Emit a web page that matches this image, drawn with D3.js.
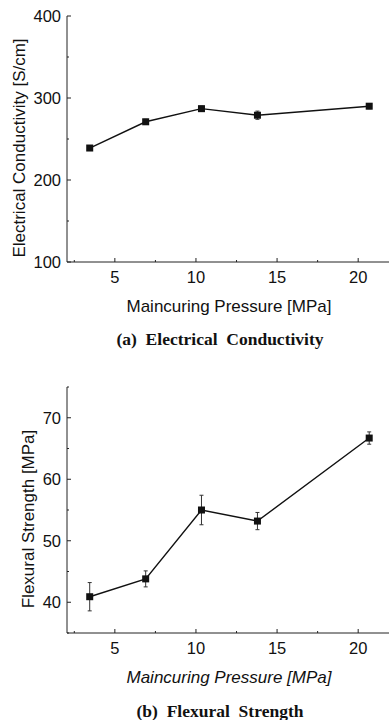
<!DOCTYPE html>
<meta charset="utf-8">
<head>
    <style>
        body { margin: 0; background: #fff; }
        svg text { font-family: Arial, 'Liberation Sans', sans-serif; fill: #111; }
        .cap { font-family: 'Liberation Serif', 'Times New Roman', serif; font-weight: bold; }
    </style>
</head>
<body>
    <svg width="389" height="720"></svg>

    <script src="https://d3js.org/d3.v7.min.js"></script>
    <script>
        // data
        var pressure = [3.45, 6.9, 10.34, 13.79, 20.68];
        var conductivity = [239, 271, 287, 279, 290];
        var conductivityErr = [3, 3, 3, 5, 3];
        var strength = [40.9, 43.8, 55.0, 53.2, 66.7];
        var strengthErr = [2.3, 1.3, 2.4, 1.4, 1.0];
        var xTicks = [5, 10, 15, 20];
        var condTicks = [100, 200, 300, 400];
        var strTicks = [40, 50, 60, 70];

        var svg = d3.select("svg");

        var x = d3.scaleLinear().domain([2.05, 21.9]).range([67, 389]);

        function panel(top, bottom, yDomain, yTicks, yMinor, vals, errs, yTitle, yTitleX, xItalic, caption, capY, capSize) {
            var y = d3.scaleLinear().domain(yDomain).range([bottom, top]);
            var g = svg.append("g");

            // axes lines
            g.append("line").attr("x1", x.range()[0]).attr("x2", x.range()[0])
                .attr("y1", top).attr("y2", bottom).attr("stroke", "#222").attr("stroke-width", 1);
            g.append("line").attr("x1", x.range()[0]).attr("x2", 389)
                .attr("y1", bottom).attr("y2", bottom).attr("stroke", "#222").attr("stroke-width", 1);

            // x ticks (inward)
            var xMinor = d3.range(2.5, 22, 2.5).filter(function (d) { return d > x.domain()[0]; });
            g.selectAll(".xt").data(xMinor).enter().append("line")
                .attr("x1", function (d) { return x(d); }).attr("x2", function (d) { return x(d); })
                .attr("y1", bottom).attr("y2", function (d) { return bottom - (d % 5 === 0 ? 4 : 2); })
                .attr("stroke", "#222");
            g.selectAll(".xl").data(xTicks).enter().append("text")
                .attr("x", function (d) { return x(d); }).attr("y", bottom + 21)
                .attr("text-anchor", "middle").style("font-size", "16.5px")
                .text(function (d) { return d; });

            // y ticks (inward)
            g.selectAll(".yt").data(yMinor).enter().append("line")
                .attr("x1", x.range()[0]).attr("x2", function (d) { return x.range()[0] + (yTicks.indexOf(d) >= 0 ? 4 : 2); })
                .attr("y1", function (d) { return y(d); }).attr("y2", function (d) { return y(d); })
                .attr("stroke", "#222");
            g.selectAll(".yl").data(yTicks).enter().append("text")
                .attr("x", x.range()[0] - 6).attr("y", function (d) { return y(d) + 6; })
                .attr("text-anchor", "end").style("font-size", "16.5px")
                .text(function (d) { return d; });

            // error bars
            var eb = g.selectAll(".eb").data(vals).enter().append("g").attr("stroke", "#333").attr("stroke-width", 1);
            eb.append("line")
                .attr("x1", function (d, i) { return x(pressure[i]); }).attr("x2", function (d, i) { return x(pressure[i]); })
                .attr("y1", function (d, i) { return y(d - errs[i]); }).attr("y2", function (d, i) { return y(d + errs[i]); });
            eb.append("line")
                .attr("x1", function (d, i) { return x(pressure[i]) - 2; }).attr("x2", function (d, i) { return x(pressure[i]) + 2; })
                .attr("y1", function (d, i) { return y(d + errs[i]); }).attr("y2", function (d, i) { return y(d + errs[i]); });
            eb.append("line")
                .attr("x1", function (d, i) { return x(pressure[i]) - 2; }).attr("x2", function (d, i) { return x(pressure[i]) + 2; })
                .attr("y1", function (d, i) { return y(d - errs[i]); }).attr("y2", function (d, i) { return y(d - errs[i]); });

            // line
            var line = d3.line().x(function (d, i) { return x(pressure[i]); }).y(function (d) { return y(d); });
            g.append("path").datum(vals).attr("d", line)
                .attr("fill", "none").attr("stroke", "#111").attr("stroke-width", 1.4);

            // square markers
            g.selectAll(".pt").data(vals).enter().append("rect")
                .attr("x", function (d, i) { return x(pressure[i]) - 3.5; })
                .attr("y", function (d) { return y(d) - 3.5; })
                .attr("width", 7).attr("height", 7).attr("fill", "#111");

            // titles
            g.append("text").attr("transform", "translate(" + yTitleX + "," + ((top + bottom) / 2 + 9) + ") rotate(-90)")
                .attr("text-anchor", "middle").style("font-size", "17px").text(yTitle);
            g.append("text").attr("x", 229).attr("y", bottom + 50)
                .attr("text-anchor", "middle").style("font-size", "17px")
                .style("font-style", xItalic ? "italic" : "normal")
                .text("Maincuring Pressure [MPa]");
            g.append("text").attr("class", "cap").attr("x", 220).attr("y", capY)
                .attr("text-anchor", "middle").style("font-size", capSize + "px")
                .attr("xml:space", "preserve")
                .text(caption);
        }

        panel(16, 262, [100, 400], condTicks, d3.range(100, 401, 50), conductivity, conductivityErr,
            "Electrical Conductivity [S/cm]", 25, false, "(a)  Electrical  Conductivity", 345, 17.5);
        panel(387, 633, [35, 75], strTicks, d3.range(35, 76, 5), strength, strengthErr,
            "Flexural Strength [MPa]", 34, true, "(b)  Flexural  Strength", 717, 17.5);
    </script>
</body>
